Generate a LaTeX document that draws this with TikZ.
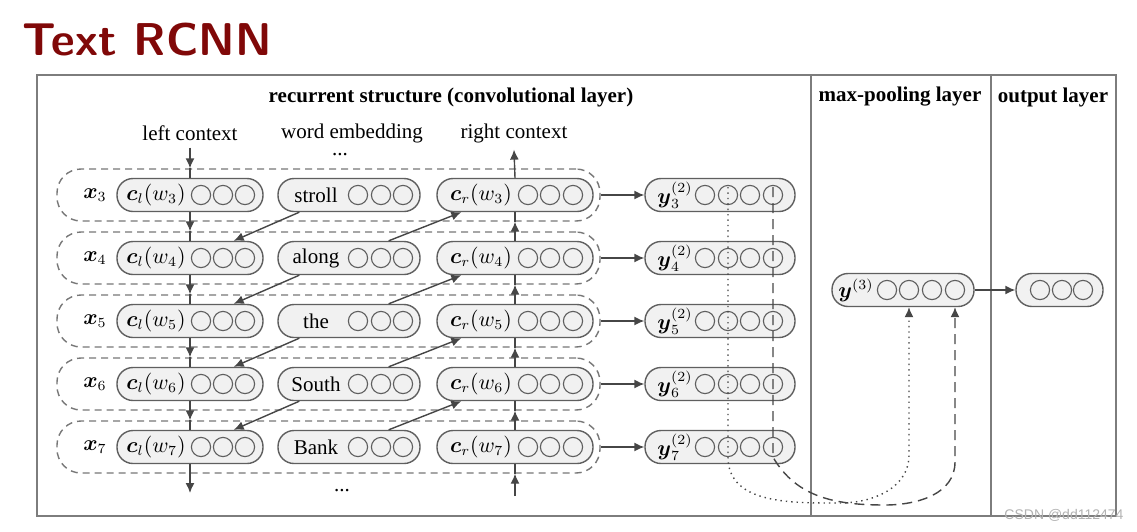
\documentclass[tikz,border=0pt]{standalone}
\usepackage{amsmath, amssymb}
\usepackage[no-math]{fontspec}
\setmainfont{Liberation Serif}
\newfontfamily\wmfont{Liberation Sans}
\usetikzlibrary{arrows.meta, positioning}

\definecolor{titlered}{RGB}{128,8,8}
\definecolor{linec}{RGB}{70,70,70}
\definecolor{boxc}{RGB}{95,95,95}
\definecolor{boxfill}{RGB}{241,241,241}
\definecolor{framec}{RGB}{125,125,125}

\tikzset{
  unit/.style={draw=boxc, line width=0.7pt, fill=boxfill, rounded corners=8pt, minimum height=16.5pt, inner sep=0pt},
  neuron/.style={circle, draw=boxc, line width=0.55pt, minimum size=9.6pt, inner sep=0pt},
  wordgroup/.style={draw=boxc!85, line width=0.7pt, dash pattern=on 3.5pt off 2.5pt, rounded corners=12pt,
    minimum width=271.5pt, minimum height=26pt},
  flow/.style={draw=linec, line width=0.7pt, -{Latex[length=5pt,width=4.5pt]}},
  plainline/.style={draw=linec, line width=0.7pt},
}

\begin{document}
\begin{tikzpicture}[x=0.5pt, y=-0.5pt, font=\fontsize{10.5}{12}\selectfont]
\useasboundingbox (0,0) rectangle (1137,531);

% title
\node[anchor=base west, inner sep=0pt, text=titlered, font=\sffamily\bfseries\fontsize{23}{27}\selectfont] (title) at (22,55) {Text RCNN};

% frame and layers
\draw[framec, line width=0.8pt] (37,75) rectangle (1116,516);
\draw[framec, line width=0.8pt] (811,75) -- (811,516);
\draw[framec, line width=0.8pt] (991,75) -- (991,516);
\node[font=\bfseries\fontsize{10.5}{12}\selectfont] (hrec) at (451,97) {recurrent structure (convolutional layer)};
\node[font=\bfseries\fontsize{10.5}{12}\selectfont] (hpool) at (900,97) {max-pooling layer};
\node[font=\bfseries\fontsize{10.5}{12}\selectfont] (hout) at (1053,97) {output layer};

\node (lc) at (190,133) {left context};
\node (we) at (352,133) {word embedding};
\node (rc) at (514,133) {right context};
\node (dtop) at (340,155) {...};
\node (dbot) at (342,491) {...};

% rows
\foreach \i/\yy/\w in {3/195/stroll,4/258/along,5/321/the,6/384/South,7/447/Bank}{
  \node[wordgroup] (g\i) at (328.5,\yy) {};
  \node (x\i) at (95,\yy) {$\boldsymbol{x}_\i$};
  \node[unit, minimum width=73pt] (cl\i) at (190,\yy) {};
  \node at (156,\yy) {$\boldsymbol{c}_l(w_\i)$};
  \foreach \cx in {201,223,245} \node[neuron] at (\cx,\yy) {};
  \node[unit, minimum width=71pt] (w\i) at (349,\yy) {};
  \node at (316,\yy) {\w};
  \foreach \cx in {358,381,403} \node[neuron] at (\cx,\yy) {};
  \node[unit, minimum width=78pt] (cr\i) at (515,\yy) {};
  \node at (481,\yy) {$\boldsymbol{c}_r(w_\i)$};
  \foreach \cx in {528,550,573} \node[neuron] at (\cx,\yy) {};
  \node[unit, minimum width=75pt] (y\i) at (720,\yy) {};
  \node at (675,\yy) {$\boldsymbol{y}_\i^{(2)}$};
  \foreach \k/\cx in {1/705,2/728,3/750,4/773} \node[neuron] (y\i-\k) at (\cx,\yy) {};
  \draw[flow] (g\i.east) -- (y\i.west);
}

% left and right context
\draw[flow] (lc.south) -- (lc.south |- g3.north);
\draw[plainline] (lc.south |- g3.north) -- (cl3.north);
\draw[flow] (cr3.north) -- (rc.south);
\foreach \i/\j in {3/4,4/5,5/6,6/7}{
  \draw[flow] (cl\i.south) -- (cl\i.south |- g\j.north);
  \draw[plainline] (cl\i.south |- g\j.north) -- (cl\j.north);
  \draw[flow] (cr\j.north) -- (cr\j.north |- g\i.south);
  \draw[plainline] (cr\j.north |- g\i.south) -- (cr\i.south);
  \draw[flow] ([xshift=11pt]w\i.south west) -- ([xshift=-15pt]cl\j.north east);
  \draw[flow] ([xshift=-16pt]w\j.north east) -- ([xshift=12.5pt]cr\i.south west);
}
\coordinate (lout) at (190,493);
\coordinate (rin) at (515,496);
\draw[flow] (cl7.south) -- (lout);
\draw[flow] (rin) -- (rin |- g7.south);
\draw[plainline] (rin |- g7.south) -- (cr7.south);

% max-pooling and output
\node[unit, minimum width=71pt] (pool) at (903,290) {};
\node at (856,290) {$\boldsymbol{y}^{(3)}$};
\foreach \k/\cx in {1/887,2/909,3/932,4/955} \node[neuron] (p\k) at (\cx,290) {};
\node[unit, minimum width=43.5pt] (out) at (1059.5,290) {};
\foreach \cx in {1040,1062,1083} \node[neuron] at (\cx,290) {};
\draw[flow] (pool.east) -- (out.west);

\coordinate (dotlow) at (840,503);
\coordinate (dashlow) at (885,505);
\draw[flow, dotted] ([yshift=4pt]y3-2.center) -- (y7-2.south) to[out=-90,in=180] (dotlow)
  to[out=0,in=-90] (p2 |- 0,455) -- (p2 |- pool.south);
\draw[flow, dash pattern=on 5pt off 3pt] ([yshift=4pt]y3-4.center) -- (y7-4.south) to[out=-60,in=180] (dashlow)
  to[out=0,in=-90] (p4 |- 0,462) -- (p4 |- pool.south);

\node[text=black!30, font=\wmfont\fontsize{7}{8}\selectfont] (wm) at (1064,515) {CSDN @dd112474};
\end{tikzpicture}
\end{document}
